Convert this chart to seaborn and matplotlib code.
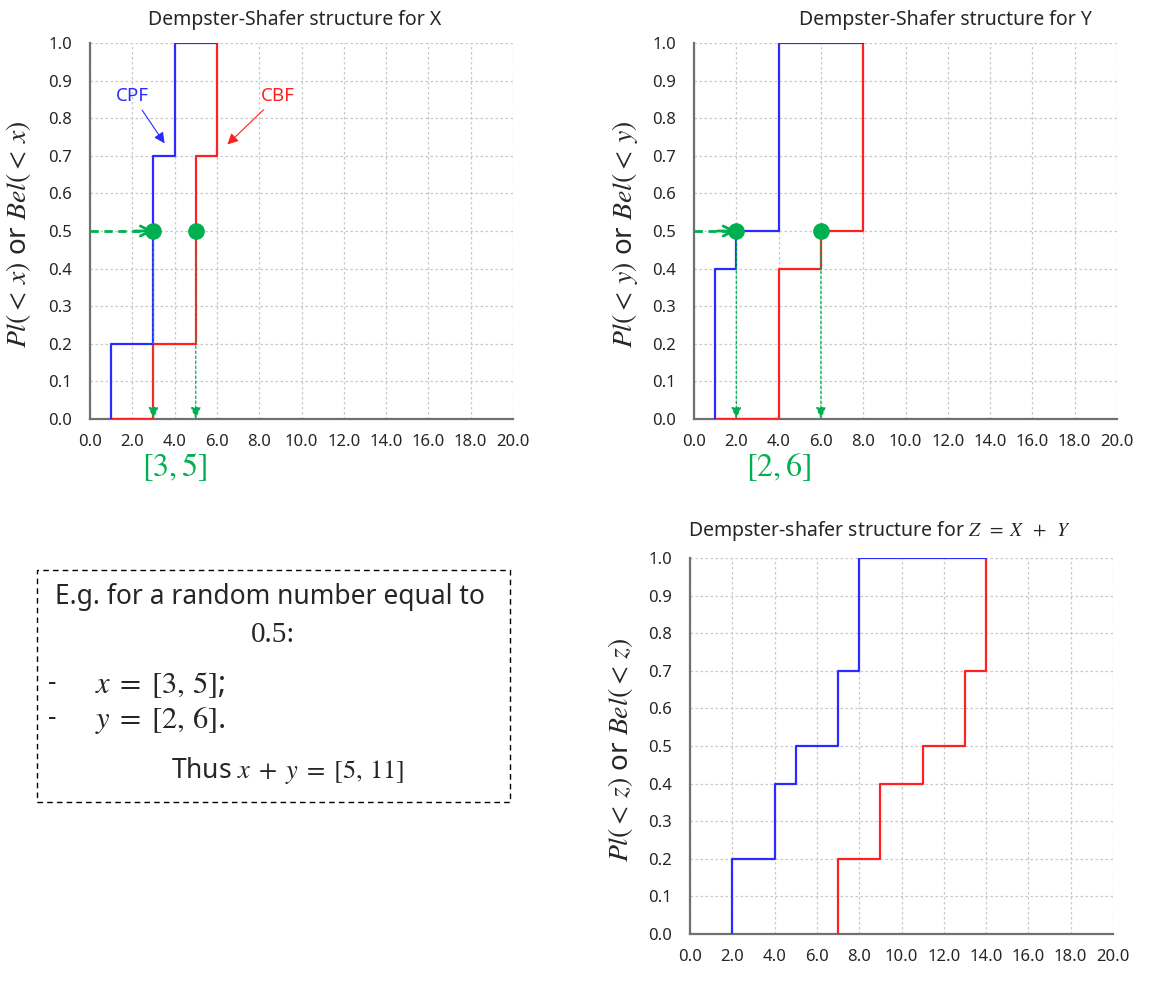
import numpy as np
import matplotlib
matplotlib.use('Agg')
import matplotlib.pyplot as plt
import seaborn as sns
from matplotlib.patches import Rectangle

# Step positions (lower bounds -> CPF, upper bounds -> CBF) and cumulative levels
x_cpf_steps = [1, 3, 4]
x_cbf_steps = [3, 5, 6]
x_levels = [0.2, 0.7, 1.0]
x_cbf_start = 1

y_cpf_steps = [1, 2, 4]
y_cbf_steps = [4, 6, 8]
y_levels = [0.4, 0.5, 1.0]
y_cbf_start = 1

z_cpf_steps = [2, 4, 5, 7, 8]
z_cbf_steps = [7, 9, 11, 13, 14]
z_levels = [0.2, 0.4, 0.5, 0.7, 1.0]
z_cbf_start = 7

rand_level = 0.5
x_interval = [3, 5]
y_interval = [2, 6]
sum_interval = [5, 11]

x_ticks = [0, 2, 4, 6, 8, 10, 12, 14, 16, 18, 20]
y_ticks = [0.0, 0.1, 0.2, 0.3, 0.4, 0.5, 0.6, 0.7, 0.8, 0.9, 1.0]

BLUE = '#2b2bff'
RED = '#ff2020'
GREEN = '#00b050'

sns.set_style('white')
plt.rcParams['font.family'] = ['Noto Sans', 'DejaVu Sans']
plt.rcParams['mathtext.fontset'] = 'stix'

W, H = 1152, 981
fig = plt.figure(figsize=(W / 100, H / 100), dpi=100)


def fx(px):
    return px / W


def fy(px):
    return 1 - px / H


def cpf_path(steps, levels):
    xs, ys, prev = [], [], 0.0
    for s, l in zip(steps, levels):
        xs += [s, s]
        ys += [prev, l]
        prev = l
    return xs, ys


def cbf_path(steps, levels, start):
    xs, ys, prev = [start], [0.0], 0.0
    for s, l in zip(steps, levels):
        xs += [s, s]
        ys += [prev, l]
        prev = l
    return xs, ys


def panel(rect, cpf_steps, cbf_steps, levels, cbf_start, var, label_x):
    ax = fig.add_axes(rect)
    cx, cy = cpf_path(cpf_steps, levels)
    # blue line runs along the top up to the last CBF step
    cx.append(cbf_steps[-1])
    cy.append(levels[-1])
    bx, by = cbf_path(cbf_steps, levels, cbf_start)
    sns.lineplot(x=bx, y=by, sort=False, estimator=None, color=RED, lw=1.6, ax=ax, zorder=3)
    sns.lineplot(x=cx, y=cy, sort=False, estimator=None, color=BLUE, lw=1.6, ax=ax, zorder=3)
    ax.set_xlim(0, 20)
    ax.set_ylim(0, 1)
    ax.set_xticks(x_ticks)
    ax.set_yticks(y_ticks)
    ax.set_xticklabels([f'{t:.1f}' for t in x_ticks], fontsize=12)
    ax.set_yticklabels([f'{t:.1f}' for t in y_ticks], fontsize=12)
    ax.tick_params(axis='x', length=0, pad=11)
    ax.tick_params(axis='y', length=0, pad=13)
    ax.grid(True, color='#c8c8c8', ls=(0, (2, 2)), lw=0.9)
    for side in ['top', 'right']:
        ax.spines[side].set_visible(False)
    for side in ['left', 'bottom']:
        ax.spines[side].set_color('#707070')
        ax.spines[side].set_linewidth(1.6)
    ax.set_ylabel(rf'$Pl(<\,{var})$ or $Bel(<\,{var})$', fontsize=20)
    ax.yaxis.set_label_coords(label_x, 0.49)
    return ax


def sample_marks(ax, interval):
    lo, hi = interval
    ax.plot([0, lo - 0.4], [rand_level, rand_level], ls=(0, (3, 2)), color=GREEN, lw=2, zorder=4)
    ax.annotate('', xy=(lo, rand_level), xytext=(lo - 0.9, rand_level),
                arrowprops=dict(arrowstyle='->', color=GREEN, lw=2, mutation_scale=18,
                                shrinkA=0, shrinkB=0), zorder=4)
    for v in interval:
        ax.annotate('', xy=(v, 0), xytext=(v, rand_level),
                    arrowprops=dict(arrowstyle='-|>,head_length=0.7,head_width=0.3',
                                    color=GREEN, lw=0.9, ls=(0, (2, 2)),
                                    shrinkA=0, shrinkB=0), zorder=4)
    ax.plot(interval, [rand_level] * 2, 'o', ms=11, color=GREEN, zorder=5)
    ax.text(np.mean(interval), -0.128, rf'$[{lo},{hi}]$', color=GREEN, fontsize=23,
            ha='center', va='center', transform=ax.get_xaxis_transform())


top_rect_h = (419 - 43) / H
ax_x = panel([fx(90), fy(419), (513 - 90) / W, top_rect_h],
             x_cpf_steps, x_cbf_steps, x_levels, x_cbf_start, 'x', -0.135)
ax_y = panel([fx(694), fy(419), (1117 - 694) / W, top_rect_h],
             y_cpf_steps, y_cbf_steps, y_levels, y_cbf_start, 'y', -0.128)
ax_z = panel([fx(690), fy(934), (1113 - 690) / W, (934 - 558) / H],
             z_cpf_steps, z_cbf_steps, z_levels, z_cbf_start, 'z', -0.13)

sample_marks(ax_x, x_interval)
sample_marks(ax_y, y_interval)

ax_x.annotate('CPF', xy=(3.6, 0.727), xytext=(2.0, 0.86), color=BLUE, fontsize=13.5,
              ha='center', va='center',
              arrowprops=dict(arrowstyle='-|>', color=BLUE, lw=0.8, mutation_scale=16))
ax_x.annotate('CBF', xy=(6.4, 0.725), xytext=(8.9, 0.86), color=RED, fontsize=13.5,
              ha='center', va='center',
              arrowprops=dict(arrowstyle='-|>', color=RED, lw=0.8, mutation_scale=16))

# titles
fig.text(fx(295), fy(20), 'Dempster-Shafer structure for X', fontsize=14, ha='center', va='center')
fig.text(fx(945), fy(20), 'Dempster-Shafer structure for Y', fontsize=14, ha='center', va='center')
fig.text(fx(879), fy(531), r'Dempster-shafer structure for $Z\;\;=\;X\;\;+\;\;Y$', fontsize=14,
         ha='center', va='center')

# explanation box
fig.add_artist(Rectangle((fx(37), fy(802)), (510 - 37) / W, (802 - 570) / H,
                         transform=fig.transFigure, fill=False, ls=(0, (4, 3)),
                         lw=1, ec='black'))
fig.text(fx(270), fy(597), 'E.g. for a random number equal to', fontsize=19,
         ha='center', va='center')
fig.text(fx(273), fy(635), f'{rand_level}:', fontsize=21, family='Liberation Serif',
         ha='center', va='center')
fig.text(fx(52), fy(683), '-', fontsize=19, ha='center', va='center')
fig.text(fx(95), fy(685), rf'$x\;=\;[{x_interval[0]},\,{x_interval[1]}]$;', fontsize=22,
         ha='left', va='center')
fig.text(fx(52), fy(718), '-', fontsize=19, ha='center', va='center')
fig.text(fx(95), fy(720), rf'$y\;=\;[{y_interval[0]},\,{y_interval[1]}]$.', fontsize=22,
         ha='left', va='center')
fig.text(fx(288), fy(770), rf'Thus $x\;+\;y\;=\;[{sum_interval[0]},\,{sum_interval[1]}]$',
         fontsize=19, ha='center', va='center')

fig.savefig('out.png', dpi=100)
